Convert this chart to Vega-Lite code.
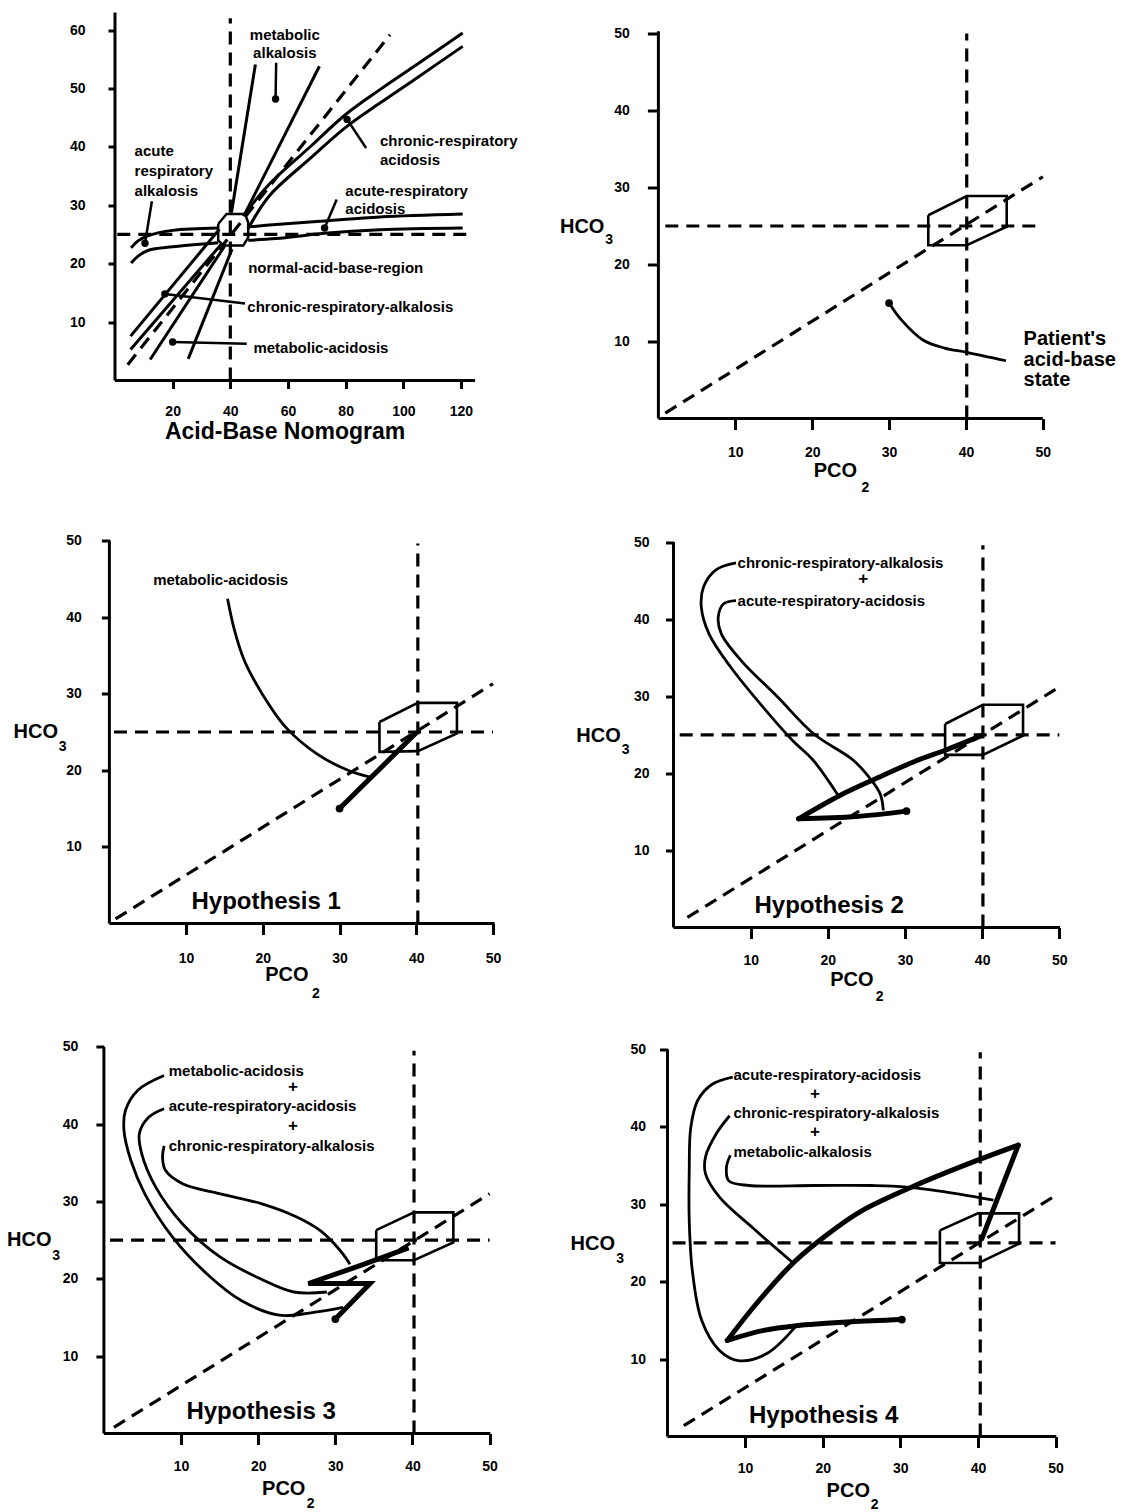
{
"$schema": "https://vega.github.io/schema/vega-lite/v6.json",
"background": "white",
"padding": {"left": 7, "top": 10.5, "right": 5, "bottom": 5},
"columns": 2,
"spacing": {"row": 119, "column": 163},
"bounds": "flush",
"align": "each",
"config": {
  "view": {"stroke": null},
  "axis": {"domain": false, "grid": false, "labelFont": "Liberation Sans", "labelFontWeight": "bold", "labelFontSize": 14, "labelColor": "black", "tickColor": "black", "tickWidth": 3, "labelFlush": false, "labelOverlap": false}
},
"concat": [
{
  "width": 372, "height": 368,
  "data": {"values": [
    {"k":"axis","x":0,"y":0,"x2":0,"y2":63},
    {"k":"axis","x":0,"y":0,"x2":124.9,"y2":0},
    {"k":"dash","x":40,"y":0,"x2":40,"y2":62},
    {"k":"dash","x":0.8,"y":25,"x2":124,"y2":25},
    {"k":"dash","x":4.4,"y":2.7,"x2":95.4,"y2":59.2},
    {"k":"seg","x":5.4,"y":7.6,"x2":36.2,"y2":25.9},
    {"k":"seg","x":5.4,"y":5.3,"x2":36.8,"y2":23.3},
    {"k":"seg","x":12.2,"y":3.6,"x2":38.0,"y2":23.0},
    {"k":"seg","x":25.4,"y":3.7,"x2":40.6,"y2":22.5},
    {"k":"seg","x":40.4,"y":28.7,"x2":48.7,"y2":54.1},
    {"k":"seg","x":44.6,"y":28.1,"x2":70.9,"y2":53.8},
    {"k":"lead","x":55.9,"y":54.4,"x2":55.7,"y2":48.2},
    {"k":"lead","x":87.1,"y":39.8,"x2":80.5,"y2":44.7},
    {"k":"lead","x":76.9,"y":31.0,"x2":72.7,"y2":26.1},
    {"k":"lead","x":12.8,"y":30.7,"x2":10.4,"y2":23.5},
    {"k":"lead","x":45.1,"y":13.2,"x2":17.3,"y2":14.8},
    {"k":"lead","x":45.7,"y":6.3,"x2":20.0,"y2":6.6},
    {"k":"dot","x":55.7,"y":48.2},
    {"k":"dot","x":80.5,"y":44.7},
    {"k":"dot","x":72.7,"y":26.1},
    {"k":"dot","x":10.4,"y":23.5},
    {"k":"dot","x":17.3,"y":14.8},
    {"k":"dot","x":20.0,"y":6.6},
    {"k":"thin","g":"cu","i":0,"x":45.0,"y":28.5},
    {"k":"thin","g":"cu","i":1,"x":53.5,"y":33.6},
    {"k":"thin","g":"cu","i":2,"x":67.9,"y":40.1},
    {"k":"thin","g":"cu","i":3,"x":79.9,"y":45.5},
    {"k":"thin","g":"cu","i":4,"x":91.9,"y":49.8},
    {"k":"thin","g":"cu","i":5,"x":103.8,"y":53.8},
    {"k":"thin","g":"cu","i":6,"x":120.6,"y":59.5},
    {"k":"thin","g":"cl","i":0,"x":46.2,"y":26.0},
    {"k":"thin","g":"cl","i":1,"x":53.5,"y":31.6},
    {"k":"thin","g":"cl","i":2,"x":67.9,"y":38.1},
    {"k":"thin","g":"cl","i":3,"x":79.9,"y":43.3},
    {"k":"thin","g":"cl","i":4,"x":91.9,"y":47.5},
    {"k":"thin","g":"cl","i":5,"x":103.8,"y":51.5},
    {"k":"thin","g":"cl","i":6,"x":120.6,"y":57.2},
    {"k":"thin","g":"au","i":0,"x":46.2,"y":26.3},
    {"k":"thin","g":"au","i":1,"x":55.9,"y":26.7},
    {"k":"thin","g":"au","i":2,"x":72.7,"y":27.3},
    {"k":"thin","g":"au","i":3,"x":91.9,"y":28.0},
    {"k":"thin","g":"au","i":4,"x":120.6,"y":28.5},
    {"k":"thin","g":"al","i":0,"x":46.2,"y":24.0},
    {"k":"thin","g":"al","i":1,"x":55.9,"y":24.3},
    {"k":"thin","g":"al","i":2,"x":72.7,"y":25.2},
    {"k":"thin","g":"al","i":3,"x":91.9,"y":25.8},
    {"k":"thin","g":"al","i":4,"x":120.6,"y":26.1},
    {"k":"thin","g":"lu","i":0,"x":5.6,"y":22.7},
    {"k":"thin","g":"lu","i":1,"x":8.0,"y":23.9},
    {"k":"thin","g":"lu","i":2,"x":11.6,"y":24.8},
    {"k":"thin","g":"lu","i":3,"x":20.0,"y":25.7},
    {"k":"thin","g":"lu","i":4,"x":35.8,"y":26.1},
    {"k":"thin","g":"ll","i":0,"x":5.6,"y":20.1},
    {"k":"thin","g":"ll","i":1,"x":8.0,"y":21.3},
    {"k":"thin","g":"ll","i":2,"x":11.6,"y":22.3},
    {"k":"thin","g":"ll","i":3,"x":20.0,"y":22.9},
    {"k":"thin","g":"ll","i":4,"x":35.8,"y":23.6},
    {"k":"hex","i":0,"x":35.8,"y":26.8},
    {"k":"hex","i":1,"x":38.7,"y":28.5},
    {"k":"hex","i":2,"x":45.1,"y":28.5},
    {"k":"hex","i":3,"x":46.2,"y":27.1},
    {"k":"hex","i":4,"x":46.2,"y":24.5},
    {"k":"hex","i":5,"x":44.5,"y":23.1},
    {"k":"hex","i":6,"x":37.6,"y":23.1},
    {"k":"hex","i":7,"x":35.8,"y":24.0},
    {"k":"hex","i":8,"x":35.8,"y":26.8},
    {"k":"lab","x":91.9,"y":41.0,"t":"chronic-respiratory"},
    {"k":"lab","x":91.9,"y":37.8,"t":"acidosis"},
    {"k":"lab","x":79.9,"y":32.4,"t":"acute-respiratory"},
    {"k":"lab","x":79.9,"y":29.3,"t":"acidosis"},
    {"k":"lab","x":6.8,"y":39.3,"t":"acute"},
    {"k":"lab","x":6.8,"y":35.8,"t":"respiratory"},
    {"k":"lab","x":6.8,"y":32.4,"t":"alkalosis"},
    {"k":"lab","x":46.2,"y":19.3,"t":"normal-acid-base-region"},
    {"k":"lab","x":45.9,"y":12.6,"t":"chronic-respiratory-alkalosis"},
    {"k":"lab","x":48.0,"y":5.6,"t":"metabolic-acidosis"},
    {"k":"labc","x":58.9,"y":59.2,"t":"metabolic"},
    {"k":"labc","x":58.9,"y":56.1,"t":"alkalosis"},
    {"k":"bigc","x":59.0,"y":-8.85,"t":"Acid-Base Nomogram"}
  ]},
  "encoding": {
    "x": {"field":"x","type":"quantitative","scale":{"domain":[-4.16,124.87],"nice":false,"zero":false},"axis":{"title":null,"values":[20,40,60,80,100,120],"tickSize":8,"labelPadding":16}},
    "y": {"field":"y","type":"quantitative","scale":{"domain":[0,63.0],"nice":false,"zero":false},"axis":{"title":null,"values":[10,20,30,40,50,60],"tickSize":7,"labelPadding":23,"offset":-12}}
  },
  "layer": [
    {"transform":[{"filter":"datum.k==='axis'"}],"mark":{"type":"rule","strokeWidth":3,"color":"black"},"encoding":{"x2":{"field":"x2"},"y2":{"field":"y2"}}},
    {"transform":[{"filter":"datum.k==='dash'"}],"mark":{"type":"rule","strokeWidth":3.2,"strokeDash":[13,8],"color":"black"},"encoding":{"x2":{"field":"x2"},"y2":{"field":"y2"}}},
    {"transform":[{"filter":"datum.k==='seg'"}],"mark":{"type":"rule","strokeWidth":3,"color":"black"},"encoding":{"x2":{"field":"x2"},"y2":{"field":"y2"}}},
    {"transform":[{"filter":"datum.k==='lead'"}],"mark":{"type":"rule","strokeWidth":2.5,"color":"black"},"encoding":{"x2":{"field":"x2"},"y2":{"field":"y2"}}},
    {"transform":[{"filter":"datum.k==='hex'"}],"mark":{"type":"line","strokeWidth":2.5,"color":"black"},"encoding":{"order":{"field":"i","type":"quantitative"}}},
    {"transform":[{"filter":"datum.k==='thin'"}],"mark":{"type":"line","strokeWidth":3,"color":"black","interpolate":"catmull-rom"},"encoding":{"detail":{"field":"g"},"order":{"field":"i","type":"quantitative"}}},
    {"transform":[{"filter":"datum.k==='dot'"}],"mark":{"type":"point","filled":true,"size":55,"color":"black","opacity":1}},
    {"transform":[{"filter":"datum.k==='lab'"}],"mark":{"type":"text","font":"Liberation Sans","fontWeight":"bold","fontSize":15,"align":"left","baseline":"middle","color":"black"},"encoding":{"text":{"field":"t"}}},
    {"transform":[{"filter":"datum.k==='labc'"}],"mark":{"type":"text","font":"Liberation Sans","fontWeight":"bold","fontSize":15,"align":"center","baseline":"middle","color":"black"},"encoding":{"text":{"field":"t"}}},
    {"transform":[{"filter":"datum.k==='bigc'"}],"mark":{"type":"text","font":"Liberation Sans","fontWeight":"bold","fontSize":23,"align":"center","baseline":"middle","color":"black"},"encoding":{"text":{"field":"t"}}}
  ]
},
{
  "width": 385, "height": 406,
  "data": {"values": [
    {"k":"axis","x":0,"y":0,"x2":0,"y2":50.3},
    {"k":"axis","x":0,"y":0,"x2":50,"y2":0},
    {"k":"dash","x":40.1,"y":0,"x2":40.1,"y2":50},
    {"k":"dash","x":0.9,"y":25,"x2":50,"y2":25},
    {"k":"dash","x":0.9,"y":0.7,"x2":50,"y2":31.4},
    {"k":"hex","i":0,"x":35.1,"y":26.4},
    {"k":"hex","i":1,"x":40.1,"y":28.9},
    {"k":"hex","i":2,"x":45.3,"y":28.9},
    {"k":"hex","i":3,"x":45.3,"y":24.9},
    {"k":"hex","i":4,"x":40.1,"y":22.5},
    {"k":"hex","i":5,"x":35.1,"y":22.5},
    {"k":"hex","i":6,"x":35.1,"y":26.4},
    {"k":"dot","x":30,"y":15},
    {"k":"thin","g":"a","i":0,"x":30,"y":15},
    {"k":"thin","g":"a","i":1,"x":31.6,"y":12.8},
    {"k":"thin","g":"a","i":2,"x":34.4,"y":10.2},
    {"k":"thin","g":"a","i":3,"x":37.2,"y":9.15},
    {"k":"thin","g":"a","i":4,"x":40.1,"y":8.6},
    {"k":"thin","g":"a","i":5,"x":45.2,"y":7.5},
    {"k":"pat","x":47.5,"y":10.3,"t":"Patient's"},
    {"k":"pat","x":47.5,"y":7.6,"t":"acid-base"},
    {"k":"pat","x":47.5,"y":4.95,"t":"state"},
    {"k":"ax","x":-12.8,"y":24.9,"t":"HCO"},
    {"k":"ax","x":20.2,"y":-6.8,"t":"PCO"},
    {"k":"sub","x":-6.9,"y":23.2,"t":"3"},
    {"k":"sub","x":26.4,"y":-9.0,"t":"2"}
  ]},
  "encoding": {
    "x": {"field":"x","type":"quantitative","scale":{"domain":[-0.052,50.02],"nice":false,"zero":false},"axis":{"title":null,"values":[10,20,30,40,50],"tickSize":11,"labelPadding":16}},
    "y": {"field":"y","type":"quantitative","scale":{"domain":[0,52.73],"nice":false,"zero":false},"axis":{"title":null,"values":[10,20,30,40,50],"tickSize":11,"labelPadding":18,"offset":-0.4}}
  },
  "layer": [
    {"transform":[{"filter":"datum.k==='axis'"}],"mark":{"type":"rule","strokeWidth":3,"color":"black"},"encoding":{"x2":{"field":"x2"},"y2":{"field":"y2"}}},
    {"transform":[{"filter":"datum.k==='dash'"}],"mark":{"type":"rule","strokeWidth":3.2,"strokeDash":[13,8],"color":"black"},"encoding":{"x2":{"field":"x2"},"y2":{"field":"y2"}}},
    {"transform":[{"filter":"datum.k==='hex'"}],"mark":{"type":"line","strokeWidth":2.6,"color":"black"},"encoding":{"order":{"field":"i","type":"quantitative"}}},
    {"transform":[{"filter":"datum.k==='thin'"}],"mark":{"type":"line","strokeWidth":2.8,"color":"black","interpolate":"catmull-rom"},"encoding":{"detail":{"field":"g"},"order":{"field":"i","type":"quantitative"}}},
    {"transform":[{"filter":"datum.k==='dot'"}],"mark":{"type":"point","filled":true,"size":60,"color":"black","opacity":1}},
    {"transform":[{"filter":"datum.k==='pat'"}],"mark":{"type":"text","font":"Liberation Sans","fontWeight":"bold","fontSize":20,"align":"left","baseline":"middle","color":"black"},"encoding":{"text":{"field":"t"}}},
    {"transform":[{"filter":"datum.k==='ax'"}],"mark":{"type":"text","font":"Liberation Sans","fontWeight":"bold","fontSize":20,"align":"left","baseline":"middle","color":"black"},"encoding":{"text":{"field":"t"}}},
    {"transform":[{"filter":"datum.k==='sub'"}],"mark":{"type":"text","font":"Liberation Sans","fontWeight":"bold","fontSize":14,"align":"left","baseline":"middle","color":"black"},"encoding":{"text":{"field":"t"}}}
  ]
},
{
  "width": 392, "height": 386,
  "data": {"values": [
    {"k":"axis","x":0,"y":0,"x2":0,"y2":50},
    {"k":"axis","x":0,"y":0,"x2":50.2,"y2":0},
    {"k":"dash","x":40.2,"y":0,"x2":40.2,"y2":49.6},
    {"k":"dash","x":0.6,"y":25,"x2":50,"y2":25},
    {"k":"dash","x":0.8,"y":0.6,"x2":50,"y2":31.3},
    {"k":"hex","i":0,"x":35.2,"y":26.3},
    {"k":"hex","i":1,"x":40.2,"y":28.8},
    {"k":"hex","i":2,"x":45.3,"y":28.8},
    {"k":"hex","i":3,"x":45.3,"y":24.8},
    {"k":"hex","i":4,"x":40.2,"y":22.5},
    {"k":"hex","i":5,"x":35.2,"y":22.4},
    {"k":"hex","i":6,"x":35.2,"y":26.3},
    {"k":"thick","g":"a","i":0,"x":30,"y":15},
    {"k":"thick","g":"a","i":1,"x":39.9,"y":24.8},
    {"k":"dot","x":30,"y":15},
    {"k":"thin","g":"a","i":0,"x":15.4,"y":42.4},
    {"k":"thin","g":"a","i":1,"x":16.3,"y":38.3},
    {"k":"thin","g":"a","i":2,"x":17.6,"y":34.3},
    {"k":"thin","g":"a","i":3,"x":19.9,"y":30.0},
    {"k":"thin","g":"a","i":4,"x":23.0,"y":25.6},
    {"k":"thin","g":"a","i":5,"x":27.1,"y":22.1},
    {"k":"thin","g":"a","i":6,"x":31.1,"y":20.0},
    {"k":"thin","g":"a","i":7,"x":34.0,"y":19.1},
    {"k":"lab","x":5.7,"y":44.8,"t":"metabolic-acidosis"},
    {"k":"big","x":10.7,"y":2.8,"t":"Hypothesis 1"},
    {"k":"ax","x":-12.5,"y":25.0,"t":"HCO"},
    {"k":"ax","x":20.3,"y":-6.7,"t":"PCO"},
    {"k":"sub","x":-6.6,"y":23.0,"t":"3"},
    {"k":"sub","x":26.4,"y":-9.2,"t":"2"}
  ]},
  "encoding": {
    "x": {"field":"x","type":"quantitative","scale":{"domain":[-0.834,50.26],"nice":false,"zero":false},"axis":{"title":null,"values":[10,20,30,40,50],"tickSize":11,"labelPadding":17}},
    "y": {"field":"y","type":"quantitative","scale":{"domain":[0,50.39],"nice":false,"zero":false},"axis":{"title":null,"values":[10,20,30,40,50],"tickSize":8,"labelPadding":20,"offset":-6.4}}
  },
  "layer": [
    {"transform":[{"filter":"datum.k==='axis'"}],"mark":{"type":"rule","strokeWidth":3,"color":"black"},"encoding":{"x2":{"field":"x2"},"y2":{"field":"y2"}}},
    {"transform":[{"filter":"datum.k==='dash'"}],"mark":{"type":"rule","strokeWidth":3.2,"strokeDash":[13,8],"color":"black"},"encoding":{"x2":{"field":"x2"},"y2":{"field":"y2"}}},
    {"transform":[{"filter":"datum.k==='hex'"}],"mark":{"type":"line","strokeWidth":2.6,"color":"black"},"encoding":{"order":{"field":"i","type":"quantitative"}}},
    {"transform":[{"filter":"datum.k==='thin'"}],"mark":{"type":"line","strokeWidth":2.8,"color":"black","interpolate":"catmull-rom"},"encoding":{"detail":{"field":"g"},"order":{"field":"i","type":"quantitative"}}},
    {"transform":[{"filter":"datum.k==='thick'"}],"mark":{"type":"line","strokeWidth":5,"color":"black","interpolate":"catmull-rom","strokeCap":"round"},"encoding":{"detail":{"field":"g"},"order":{"field":"i","type":"quantitative"}}},
    {"transform":[{"filter":"datum.k==='dot'"}],"mark":{"type":"point","filled":true,"size":60,"color":"black","opacity":1}},
    {"transform":[{"filter":"datum.k==='lab'"}],"mark":{"type":"text","font":"Liberation Sans","fontWeight":"bold","fontSize":15,"align":"left","baseline":"middle","color":"black"},"encoding":{"text":{"field":"t"}}},
    {"transform":[{"filter":"datum.k==='big'"}],"mark":{"type":"text","font":"Liberation Sans","fontWeight":"bold","fontSize":24,"align":"left","baseline":"middle","color":"black"},"encoding":{"text":{"field":"t"}}},
    {"transform":[{"filter":"datum.k==='ax'"}],"mark":{"type":"text","font":"Liberation Sans","fontWeight":"bold","fontSize":20,"align":"left","baseline":"middle","color":"black"},"encoding":{"text":{"field":"t"}}},
    {"transform":[{"filter":"datum.k==='sub'"}],"mark":{"type":"text","font":"Liberation Sans","fontWeight":"bold","fontSize":14,"align":"left","baseline":"middle","color":"black"},"encoding":{"text":{"field":"t"}}}
  ]
},
{
  "width": 402, "height": 390,
  "data": {"values": [
    {"k":"axis","x":0,"y":0,"x2":0,"y2":50},
    {"k":"axis","x":0,"y":0,"x2":50.1,"y2":0},
    {"k":"dash","x":40.1,"y":0,"x2":40.1,"y2":49.6},
    {"k":"dash","x":0.8,"y":25,"x2":50,"y2":25},
    {"k":"dash","x":1.8,"y":1.3,"x2":50,"y2":31.2},
    {"k":"hex","i":0,"x":35.2,"y":26.4},
    {"k":"hex","i":1,"x":40.1,"y":28.9},
    {"k":"hex","i":2,"x":45.3,"y":28.9},
    {"k":"hex","i":3,"x":45.3,"y":24.9},
    {"k":"hex","i":4,"x":40.1,"y":22.4},
    {"k":"hex","i":5,"x":35.2,"y":22.4},
    {"k":"hex","i":6,"x":35.2,"y":26.4},
    {"k":"thick","g":"a","i":0,"x":30.2,"y":15.1},
    {"k":"thick","g":"a","i":1,"x":23.7,"y":14.4},
    {"k":"thick","g":"a","i":2,"x":16.2,"y":14.1},
    {"k":"thick","g":"b","i":0,"x":16.2,"y":14.1},
    {"k":"thick","g":"b","i":1,"x":21.5,"y":17.1},
    {"k":"thick","g":"b","i":2,"x":26.2,"y":19.3},
    {"k":"thick","g":"b","i":3,"x":31.4,"y":21.6},
    {"k":"thick","g":"b","i":4,"x":35.2,"y":23.0},
    {"k":"thick","g":"b","i":5,"x":39.9,"y":24.9},
    {"k":"dot","x":30.2,"y":15.1},
    {"k":"thin","g":"a","i":0,"x":8.1,"y":47.3},
    {"k":"thin","g":"a","i":1,"x":5.5,"y":46.4},
    {"k":"thin","g":"a","i":2,"x":3.9,"y":44.2},
    {"k":"thin","g":"a","i":3,"x":3.6,"y":41.6},
    {"k":"thin","g":"a","i":4,"x":4.6,"y":38.1},
    {"k":"thin","g":"a","i":5,"x":7.4,"y":33.8},
    {"k":"thin","g":"a","i":6,"x":11.6,"y":28.6},
    {"k":"thin","g":"a","i":7,"x":15.4,"y":24.3},
    {"k":"thin","g":"a","i":8,"x":18.1,"y":21.7},
    {"k":"thin","g":"a","i":9,"x":21.3,"y":17.2},
    {"k":"thin","g":"b","i":0,"x":8.1,"y":42.4},
    {"k":"thin","g":"b","i":1,"x":6.5,"y":42.0},
    {"k":"thin","g":"b","i":2,"x":5.8,"y":40.3},
    {"k":"thin","g":"b","i":3,"x":6.2,"y":38.1},
    {"k":"thin","g":"b","i":4,"x":8.8,"y":34.6},
    {"k":"thin","g":"b","i":5,"x":13.5,"y":29.9},
    {"k":"thin","g":"b","i":6,"x":18.2,"y":25.1},
    {"k":"thin","g":"b","i":7,"x":23.3,"y":21.7},
    {"k":"thin","g":"b","i":8,"x":25.5,"y":19.3},
    {"k":"thin","g":"b","i":9,"x":26.8,"y":17.3},
    {"k":"thin","g":"b","i":10,"x":27.2,"y":15.2},
    {"k":"lab","x":8.3,"y":47.3,"t":"chronic-respiratory-alkalosis"},
    {"k":"lab","x":8.3,"y":42.4,"t":"acute-respiratory-acidosis"},
    {"k":"plus","x":24.6,"y":45.2,"t":"+"},
    {"k":"big","x":10.5,"y":2.85,"t":"Hypothesis 2"},
    {"k":"ax","x":-12.6,"y":24.8,"t":"HCO"},
    {"k":"ax","x":20.3,"y":-6.8,"t":"PCO"},
    {"k":"sub","x":-6.7,"y":23.0,"t":"3"},
    {"k":"sub","x":26.2,"y":-9.0,"t":"2"}
  ]},
  "encoding": {
    "x": {"field":"x","type":"quantitative","scale":{"domain":[-2.009,50.09],"nice":false,"zero":false},"axis":{"title":null,"values":[10,20,30,40,50],"tickSize":11,"labelPadding":15}},
    "y": {"field":"y","type":"quantitative","scale":{"domain":[0,50.6],"nice":false,"zero":false},"axis":{"title":null,"values":[10,20,30,40,50],"tickSize":8,"labelPadding":16.5,"offset":-15.5}}
  },
  "layer": [
    {"transform":[{"filter":"datum.k==='axis'"}],"mark":{"type":"rule","strokeWidth":3,"color":"black"},"encoding":{"x2":{"field":"x2"},"y2":{"field":"y2"}}},
    {"transform":[{"filter":"datum.k==='dash'"}],"mark":{"type":"rule","strokeWidth":3.2,"strokeDash":[13,8],"color":"black"},"encoding":{"x2":{"field":"x2"},"y2":{"field":"y2"}}},
    {"transform":[{"filter":"datum.k==='hex'"}],"mark":{"type":"line","strokeWidth":2.6,"color":"black"},"encoding":{"order":{"field":"i","type":"quantitative"}}},
    {"transform":[{"filter":"datum.k==='thin'"}],"mark":{"type":"line","strokeWidth":2.8,"color":"black","interpolate":"catmull-rom"},"encoding":{"detail":{"field":"g"},"order":{"field":"i","type":"quantitative"}}},
    {"transform":[{"filter":"datum.k==='thick'"}],"mark":{"type":"line","strokeWidth":5,"color":"black","interpolate":"catmull-rom","strokeCap":"round"},"encoding":{"detail":{"field":"g"},"order":{"field":"i","type":"quantitative"}}},
    {"transform":[{"filter":"datum.k==='dot'"}],"mark":{"type":"point","filled":true,"size":60,"color":"black","opacity":1}},
    {"transform":[{"filter":"datum.k==='lab'"}],"mark":{"type":"text","font":"Liberation Sans","fontWeight":"bold","fontSize":15,"align":"left","baseline":"middle","color":"black"},"encoding":{"text":{"field":"t"}}},
    {"transform":[{"filter":"datum.k==='plus'"}],"mark":{"type":"text","font":"Liberation Sans","fontWeight":"bold","fontSize":17,"align":"center","baseline":"middle","color":"black"},"encoding":{"text":{"field":"t"}}},
    {"transform":[{"filter":"datum.k==='big'"}],"mark":{"type":"text","font":"Liberation Sans","fontWeight":"bold","fontSize":24,"align":"left","baseline":"middle","color":"black"},"encoding":{"text":{"field":"t"}}},
    {"transform":[{"filter":"datum.k==='ax'"}],"mark":{"type":"text","font":"Liberation Sans","fontWeight":"bold","fontSize":20,"align":"left","baseline":"middle","color":"black"},"encoding":{"text":{"field":"t"}}},
    {"transform":[{"filter":"datum.k==='sub'"}],"mark":{"type":"text","font":"Liberation Sans","fontWeight":"bold","fontSize":14,"align":"left","baseline":"middle","color":"black"},"encoding":{"text":{"field":"t"}}}
  ]
},
{
  "width": 387, "height": 387,
  "data": {"values": [
    {"k":"axis","x":0,"y":0,"x2":0,"y2":50},
    {"k":"axis","x":0,"y":0,"x2":50.1,"y2":0},
    {"k":"dash","x":40.2,"y":0,"x2":40.2,"y2":49.5},
    {"k":"dash","x":0.8,"y":25,"x2":50,"y2":25},
    {"k":"dash","x":1.3,"y":0.8,"x2":50,"y2":31.0},
    {"k":"hex","i":0,"x":35.3,"y":26.3},
    {"k":"hex","i":1,"x":40.2,"y":28.6},
    {"k":"hex","i":2,"x":45.3,"y":28.6},
    {"k":"hex","i":3,"x":45.3,"y":24.7},
    {"k":"hex","i":4,"x":40.2,"y":22.4},
    {"k":"hex","i":5,"x":35.3,"y":22.4},
    {"k":"hex","i":6,"x":35.3,"y":26.3},
    {"k":"thickl","g":"a","i":0,"x":30,"y":14.8},
    {"k":"thickl","g":"a","i":1,"x":34.5,"y":19.4},
    {"k":"thickl","g":"a","i":2,"x":26.5,"y":19.4},
    {"k":"thickl","g":"a","i":3,"x":33.2,"y":21.7},
    {"k":"thickl","g":"a","i":4,"x":39.5,"y":24.0},
    {"k":"dot","x":30,"y":14.8},
    {"k":"thin","g":"a","i":0,"x":7.8,"y":46.3},
    {"k":"thin","g":"a","i":1,"x":4.4,"y":44.4},
    {"k":"thin","g":"a","i":2,"x":2.8,"y":41.8},
    {"k":"thin","g":"a","i":3,"x":2.6,"y":39.2},
    {"k":"thin","g":"a","i":4,"x":3.5,"y":35.3},
    {"k":"thin","g":"a","i":5,"x":5.3,"y":31.0},
    {"k":"thin","g":"a","i":6,"x":8.9,"y":25.4},
    {"k":"thin","g":"a","i":7,"x":13.4,"y":20.6},
    {"k":"thin","g":"a","i":8,"x":17.8,"y":17.2},
    {"k":"thin","g":"a","i":9,"x":22.7,"y":15.3},
    {"k":"thin","g":"a","i":10,"x":26.8,"y":15.6},
    {"k":"thin","g":"a","i":11,"x":31.0,"y":16.3},
    {"k":"thin","g":"b","i":0,"x":7.8,"y":42.0},
    {"k":"thin","g":"b","i":1,"x":5.8,"y":40.9},
    {"k":"thin","g":"b","i":2,"x":4.6,"y":38.8},
    {"k":"thin","g":"b","i":3,"x":4.9,"y":36.2},
    {"k":"thin","g":"b","i":4,"x":6.7,"y":31.9},
    {"k":"thin","g":"b","i":5,"x":10.2,"y":27.1},
    {"k":"thin","g":"b","i":6,"x":15.1,"y":22.8},
    {"k":"thin","g":"b","i":7,"x":20.3,"y":20.0},
    {"k":"thin","g":"b","i":8,"x":24.6,"y":18.3},
    {"k":"thin","g":"b","i":9,"x":28.9,"y":18.3},
    {"k":"thin","g":"c","i":0,"x":7.8,"y":37.2},
    {"k":"thin","g":"c","i":1,"x":7.6,"y":35.7},
    {"k":"thin","g":"c","i":2,"x":8.0,"y":34.0},
    {"k":"thin","g":"c","i":3,"x":10.2,"y":32.3},
    {"k":"thin","g":"c","i":4,"x":15.1,"y":31.0},
    {"k":"thin","g":"c","i":5,"x":20.5,"y":29.7},
    {"k":"thin","g":"c","i":6,"x":25.0,"y":28.0},
    {"k":"thin","g":"c","i":7,"x":28.1,"y":26.2},
    {"k":"thin","g":"c","i":8,"x":30.6,"y":23.7},
    {"k":"thin","g":"c","i":9,"x":31.9,"y":21.9},
    {"k":"lab","x":8.4,"y":46.9,"t":"metabolic-acidosis"},
    {"k":"lab","x":8.4,"y":42.3,"t":"acute-respiratory-acidosis"},
    {"k":"lab","x":8.4,"y":37.2,"t":"chronic-respiratory-alkalosis"},
    {"k":"plus","x":24.5,"y":44.75,"t":"+"},
    {"k":"plus","x":24.5,"y":39.75,"t":"+"},
    {"k":"big","x":10.7,"y":2.8,"t":"Hypothesis 3"},
    {"k":"ax","x":-12.56,"y":25.0,"t":"HCO"},
    {"k":"ax","x":20.5,"y":-7.2,"t":"PCO"},
    {"k":"sub","x":-6.7,"y":23.0,"t":"3"},
    {"k":"sub","x":26.3,"y":-9.1,"t":"2"}
  ]},
  "encoding": {
    "x": {"field":"x","type":"quantitative","scale":{"domain":[-0.117,50.05],"nice":false,"zero":false},"axis":{"title":null,"values":[10,20,30,40,50],"tickSize":11,"labelPadding":15}},
    "y": {"field":"y","type":"quantitative","scale":{"domain":[0,50.05],"nice":false,"zero":false},"axis":{"title":null,"values":[10,20,30,40,50],"tickSize":8,"labelPadding":18,"offset":-0.9}}
  },
  "layer": [
    {"transform":[{"filter":"datum.k==='axis'"}],"mark":{"type":"rule","strokeWidth":3,"color":"black"},"encoding":{"x2":{"field":"x2"},"y2":{"field":"y2"}}},
    {"transform":[{"filter":"datum.k==='dash'"}],"mark":{"type":"rule","strokeWidth":3.2,"strokeDash":[13,8],"color":"black"},"encoding":{"x2":{"field":"x2"},"y2":{"field":"y2"}}},
    {"transform":[{"filter":"datum.k==='hex'"}],"mark":{"type":"line","strokeWidth":2.6,"color":"black"},"encoding":{"order":{"field":"i","type":"quantitative"}}},
    {"transform":[{"filter":"datum.k==='thin'"}],"mark":{"type":"line","strokeWidth":2.8,"color":"black","interpolate":"catmull-rom"},"encoding":{"detail":{"field":"g"},"order":{"field":"i","type":"quantitative"}}},
    {"transform":[{"filter":"datum.k==='thickl'"}],"mark":{"type":"line","strokeWidth":5,"color":"black","strokeJoin":"miter"},"encoding":{"detail":{"field":"g"},"order":{"field":"i","type":"quantitative"}}},
    {"transform":[{"filter":"datum.k==='dot'"}],"mark":{"type":"point","filled":true,"size":60,"color":"black","opacity":1}},
    {"transform":[{"filter":"datum.k==='lab'"}],"mark":{"type":"text","font":"Liberation Sans","fontWeight":"bold","fontSize":15,"align":"left","baseline":"middle","color":"black"},"encoding":{"text":{"field":"t"}}},
    {"transform":[{"filter":"datum.k==='plus'"}],"mark":{"type":"text","font":"Liberation Sans","fontWeight":"bold","fontSize":17,"align":"center","baseline":"middle","color":"black"},"encoding":{"text":{"field":"t"}}},
    {"transform":[{"filter":"datum.k==='big'"}],"mark":{"type":"text","font":"Liberation Sans","fontWeight":"bold","fontSize":24,"align":"left","baseline":"middle","color":"black"},"encoding":{"text":{"field":"t"}}},
    {"transform":[{"filter":"datum.k==='ax'"}],"mark":{"type":"text","font":"Liberation Sans","fontWeight":"bold","fontSize":20,"align":"left","baseline":"middle","color":"black"},"encoding":{"text":{"field":"t"}}},
    {"transform":[{"filter":"datum.k==='sub'"}],"mark":{"type":"text","font":"Liberation Sans","fontWeight":"bold","fontSize":14,"align":"left","baseline":"middle","color":"black"},"encoding":{"text":{"field":"t"}}}
  ]
},
{
  "width": 398, "height": 390,
  "data": {"values": [
    {"k":"axis","x":0,"y":0,"x2":0,"y2":50},
    {"k":"axis","x":0,"y":0,"x2":50.1,"y2":0},
    {"k":"dash","x":40.3,"y":0,"x2":40.3,"y2":49.6},
    {"k":"dash","x":0.65,"y":25,"x2":50,"y2":25},
    {"k":"dash","x":2.1,"y":1.4,"x2":50,"y2":31.1},
    {"k":"hex","i":0,"x":35.1,"y":26.6},
    {"k":"hex","i":1,"x":40.0,"y":28.8},
    {"k":"hex","i":2,"x":45.3,"y":28.8},
    {"k":"hex","i":3,"x":45.3,"y":24.9},
    {"k":"hex","i":4,"x":40.1,"y":22.4},
    {"k":"hex","i":5,"x":35.1,"y":22.4},
    {"k":"hex","i":6,"x":35.1,"y":26.6},
    {"k":"thick","g":"a","i":0,"x":30.2,"y":15.1},
    {"k":"thick","g":"a","i":1,"x":23.6,"y":14.8},
    {"k":"thick","g":"a","i":2,"x":16.6,"y":14.3},
    {"k":"thick","g":"a","i":3,"x":12.4,"y":13.7},
    {"k":"thick","g":"a","i":4,"x":7.7,"y":12.4},
    {"k":"thick","g":"b","i":0,"x":7.7,"y":12.4},
    {"k":"thick","g":"b","i":1,"x":11.5,"y":17.2},
    {"k":"thick","g":"b","i":2,"x":16.2,"y":22.4},
    {"k":"thick","g":"b","i":3,"x":20.5,"y":26.0},
    {"k":"thick","g":"b","i":4,"x":24.8,"y":29.0},
    {"k":"thick","g":"b","i":5,"x":31.7,"y":32.3},
    {"k":"thick","g":"b","i":6,"x":39.8,"y":35.6},
    {"k":"thick","g":"b","i":7,"x":45.2,"y":37.6},
    {"k":"thick","g":"c","i":0,"x":45.2,"y":37.6},
    {"k":"thick","g":"c","i":1,"x":40.5,"y":25.5},
    {"k":"dot","x":30.2,"y":15.1},
    {"k":"thin","g":"a","i":0,"x":8.4,"y":46.4},
    {"k":"thin","g":"a","i":1,"x":5.8,"y":45.5},
    {"k":"thin","g":"a","i":2,"x":3.9,"y":43.4},
    {"k":"thin","g":"a","i":3,"x":3.0,"y":39.9},
    {"k":"thin","g":"a","i":4,"x":2.8,"y":34.3},
    {"k":"thin","g":"a","i":5,"x":2.8,"y":27.9},
    {"k":"thin","g":"a","i":6,"x":3.2,"y":21.4},
    {"k":"thin","g":"a","i":7,"x":4.4,"y":15.0},
    {"k":"thin","g":"a","i":8,"x":6.7,"y":11.1},
    {"k":"thin","g":"a","i":9,"x":9.1,"y":9.8},
    {"k":"thin","g":"a","i":10,"x":12.8,"y":10.7},
    {"k":"thin","g":"a","i":11,"x":16.6,"y":14.3},
    {"k":"thin","g":"b","i":0,"x":8.0,"y":41.4},
    {"k":"thin","g":"b","i":1,"x":6.3,"y":39.1},
    {"k":"thin","g":"b","i":2,"x":4.9,"y":36.1},
    {"k":"thin","g":"b","i":3,"x":4.9,"y":33.9},
    {"k":"thin","g":"b","i":4,"x":6.7,"y":30.9},
    {"k":"thin","g":"b","i":5,"x":10.9,"y":27.0},
    {"k":"thin","g":"b","i":6,"x":16.2,"y":22.4},
    {"k":"thin","g":"c","i":0,"x":8.1,"y":36.3},
    {"k":"thin","g":"c","i":1,"x":7.6,"y":34.8},
    {"k":"thin","g":"c","i":2,"x":7.9,"y":33.0},
    {"k":"thin","g":"c","i":3,"x":10.5,"y":32.4},
    {"k":"thin","g":"c","i":4,"x":18.9,"y":32.4},
    {"k":"thin","g":"c","i":5,"x":26.4,"y":32.4},
    {"k":"thin","g":"c","i":6,"x":30.8,"y":32.2},
    {"k":"thin","g":"c","i":7,"x":37.6,"y":31.3},
    {"k":"thin","g":"c","i":8,"x":42.0,"y":30.5},
    {"k":"lab","x":8.5,"y":46.6,"t":"acute-respiratory-acidosis"},
    {"k":"lab","x":8.5,"y":41.7,"t":"chronic-respiratory-alkalosis"},
    {"k":"lab","x":8.5,"y":36.7,"t":"metabolic-alkalosis"},
    {"k":"plus","x":19.0,"y":44.2,"t":"+"},
    {"k":"plus","x":19.0,"y":39.3,"t":"+"},
    {"k":"big","x":10.5,"y":2.7,"t":"Hypothesis 4"},
    {"k":"ax","x":-12.5,"y":24.8,"t":"HCO"},
    {"k":"ax","x":20.5,"y":-7.0,"t":"PCO"},
    {"k":"sub","x":-6.6,"y":22.9,"t":"3"},
    {"k":"sub","x":26.2,"y":-8.9,"t":"2"}
  ]},
  "encoding": {
    "x": {"field":"x","type":"quantitative","scale":{"domain":[-1.224,50.06],"nice":false,"zero":false},"axis":{"title":null,"values":[10,20,30,40,50],"tickSize":11,"labelPadding":14}},
    "y": {"field":"y","type":"quantitative","scale":{"domain":[0,50.34],"nice":false,"zero":false},"axis":{"title":null,"values":[10,20,30,40,50],"tickSize":8,"labelPadding":14,"offset":-9.5}}
  },
  "layer": [
    {"transform":[{"filter":"datum.k==='axis'"}],"mark":{"type":"rule","strokeWidth":3,"color":"black"},"encoding":{"x2":{"field":"x2"},"y2":{"field":"y2"}}},
    {"transform":[{"filter":"datum.k==='dash'"}],"mark":{"type":"rule","strokeWidth":3.2,"strokeDash":[13,8],"color":"black"},"encoding":{"x2":{"field":"x2"},"y2":{"field":"y2"}}},
    {"transform":[{"filter":"datum.k==='hex'"}],"mark":{"type":"line","strokeWidth":2.6,"color":"black"},"encoding":{"order":{"field":"i","type":"quantitative"}}},
    {"transform":[{"filter":"datum.k==='thin'"}],"mark":{"type":"line","strokeWidth":2.8,"color":"black","interpolate":"catmull-rom"},"encoding":{"detail":{"field":"g"},"order":{"field":"i","type":"quantitative"}}},
    {"transform":[{"filter":"datum.k==='thick'"}],"mark":{"type":"line","strokeWidth":5,"color":"black","interpolate":"catmull-rom","strokeCap":"round"},"encoding":{"detail":{"field":"g"},"order":{"field":"i","type":"quantitative"}}},
    {"transform":[{"filter":"datum.k==='dot'"}],"mark":{"type":"point","filled":true,"size":60,"color":"black","opacity":1}},
    {"transform":[{"filter":"datum.k==='lab'"}],"mark":{"type":"text","font":"Liberation Sans","fontWeight":"bold","fontSize":15,"align":"left","baseline":"middle","color":"black"},"encoding":{"text":{"field":"t"}}},
    {"transform":[{"filter":"datum.k==='plus'"}],"mark":{"type":"text","font":"Liberation Sans","fontWeight":"bold","fontSize":17,"align":"center","baseline":"middle","color":"black"},"encoding":{"text":{"field":"t"}}},
    {"transform":[{"filter":"datum.k==='big'"}],"mark":{"type":"text","font":"Liberation Sans","fontWeight":"bold","fontSize":24,"align":"left","baseline":"middle","color":"black"},"encoding":{"text":{"field":"t"}}},
    {"transform":[{"filter":"datum.k==='ax'"}],"mark":{"type":"text","font":"Liberation Sans","fontWeight":"bold","fontSize":20,"align":"left","baseline":"middle","color":"black"},"encoding":{"text":{"field":"t"}}},
    {"transform":[{"filter":"datum.k==='sub'"}],"mark":{"type":"text","font":"Liberation Sans","fontWeight":"bold","fontSize":14,"align":"left","baseline":"middle","color":"black"},"encoding":{"text":{"field":"t"}}}
  ]
}
]
}
